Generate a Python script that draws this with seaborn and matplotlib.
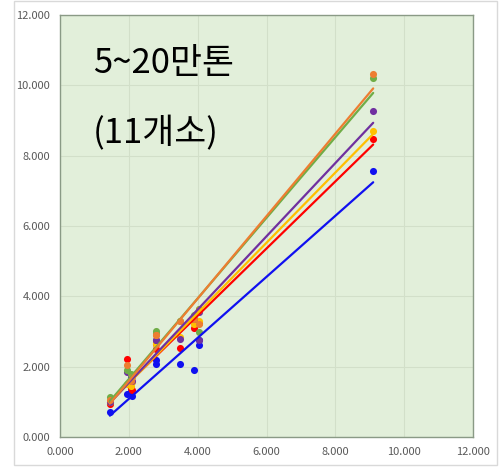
import matplotlib
matplotlib.use("Agg")
import matplotlib.pyplot as plt
import seaborn as sns
import pandas as pd
from matplotlib.patches import Rectangle
from matplotlib.ticker import FuncFormatter, MultipleLocator

# 11 sites, x positions
x_vals = [1.45, 1.95, 2.05, 2.10, 2.80, 2.80, 3.50, 3.90, 4.05, 4.05, 9.10]
blue = [0.71, 1.22, 1.30, 1.17, 2.08, 2.20, 2.08, 1.90, 2.62, 2.75, 7.56]
red = [0.95, 2.22, 1.40, 1.35, 2.65, 2.50, 2.53, 3.10, 3.24, 3.60, 8.47]
yellow = [1.00, 1.50, 1.45, 1.55, 2.70, 2.65, 2.85, 3.20, 3.30, 3.65, 8.70]
purple = [1.00, 1.85, 1.70, 1.60, 2.75, 2.75, 2.78, 3.35, 2.76, 3.55, 9.27]
green = [1.15, 1.90, 1.80, 1.75, 3.01, 2.95, 3.30, 3.47, 3.00, 3.65, 10.20]
orange = [1.05, 2.05, 1.60, 1.70, 2.90, 2.90, 3.30, 3.35, 3.20, 3.60, 10.32]

series = [
    (blue, "#1010f0"),
    (red, "#ff0000"),
    (yellow, "#ffc000"),
    (purple, "#7030a0"),
    (green, "#70ad47"),
    (orange, "#ed7d31"),
]

sns.set_style("white")
plt.rcParams["font.family"] = ["Noto Sans CJK KR", "DejaVu Sans"]

fig = plt.figure(figsize=(5.01, 4.69), dpi=100)
# outer chart border
fig.patches.append(Rectangle((14 / 501, 1 - 465 / 469), 483 / 501, 464 / 469,
                             transform=fig.transFigure, fill=False,
                             edgecolor="#d9d9d9", linewidth=1))
ax = fig.add_axes([60 / 501, 1 - 437 / 469, 413 / 501, 422 / 469])
ax.set_facecolor("#e2efda")

for vals, col in series:
    df = pd.DataFrame({"x": x_vals, "y": vals})
    sns.regplot(data=df, x="x", y="y", ax=ax, ci=None, color=col,
                scatter_kws={"s": 26, "alpha": 1, "linewidths": 0},
                line_kws={"linewidth": 1.6})

ax.set_xlim(0, 12)
ax.set_ylim(0, 12)
ax.xaxis.set_major_locator(MultipleLocator(2))
ax.yaxis.set_major_locator(MultipleLocator(2))
fmt = FuncFormatter(lambda v, p: f"{v:.3f}")
ax.xaxis.set_major_formatter(fmt)
ax.yaxis.set_major_formatter(fmt)
ax.grid(True, color="#d2dfc9", linewidth=0.8)
ax.set_axisbelow(True)
ax.tick_params(length=0, labelsize=8, labelcolor="#595959", pad=7)
ax.set_xlabel("")
ax.set_ylabel("")
for s in ax.spines.values():
    s.set_color("#8a9a86")
    s.set_linewidth(1)

ax.text(0.95, 10.62, "5~20만톤", fontsize=25, va="center", ha="left",
        color="black", fontweight="medium")
ax.text(0.95, 8.62, "(11개소)", fontsize=25, va="center", ha="left",
        color="black", fontweight="medium")

fig.savefig("out.png", dpi=100)
